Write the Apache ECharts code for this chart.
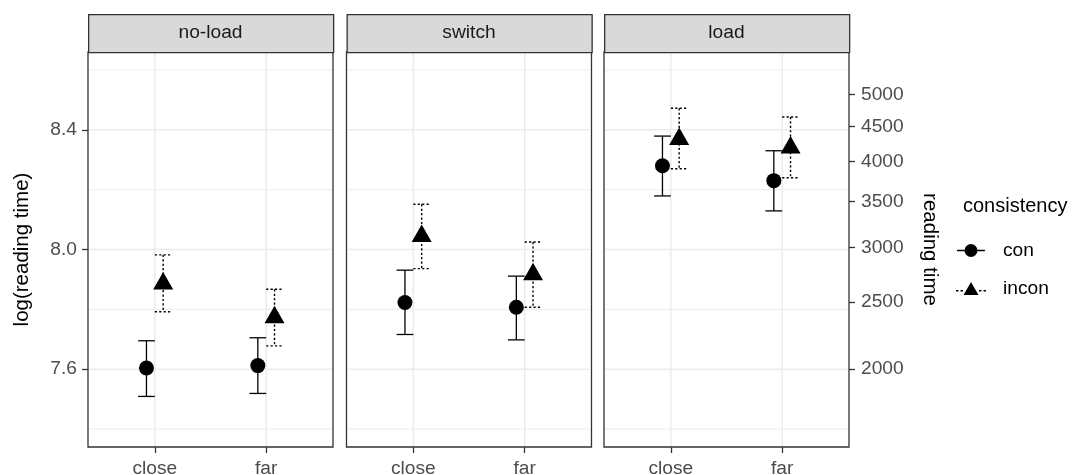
<!DOCTYPE html>
<html><head><meta charset="utf-8">
<script src="https://cdn.jsdelivr.net/npm/echarts@6/dist/echarts.min.js"></script>
<style>html,body{margin:0;padding:0;background:#fff}#c{width:1073px;height:475px}</style>
</head><body><div id="c"></div>
<script>
// ---------- data ----------
const panels = ['no-load', 'switch', 'load'];
const categories = ['close', 'far'];
const groups = ['con', 'incon'];
// log(reading time), indexed [panel][category]
const conMean   = [[7.604, 7.612], [7.823, 7.807], [8.280, 8.230]];
const conLow    = [[7.509, 7.519], [7.716, 7.698], [8.179, 8.129]];
const conHigh   = [[7.695, 7.705], [7.931, 7.911], [8.379, 8.330]];
const inconMean = [[7.886, 7.773], [8.045, 7.917], [8.369, 8.340]];
const inconLow  = [[7.792, 7.678], [7.936, 7.807], [8.270, 8.240]];
const inconHigh = [[7.982, 7.867], [8.151, 8.025], [8.472, 8.443]];
const yLimits = [7.34, 8.66];
const yMajor = [7.6, 8.0, 8.4];
const yMinor = [7.4, 7.8, 8.2, 8.6];
const rtTicks = [2000, 2500, 3000, 3500, 4000, 4500, 5000];

// ---------- layout / style ----------
const FONT = '"Liberation Sans", Arial, Helvetica, sans-serif';
const LEFTS = [88, 346.5, 604];
const PW = 245, TOP = 52, PH = 395, STRIP_TOP = 14;
const DODGE = 0.075, CAP = 0.075;
const X_MIN = 0.4, X_MAX = 2.6;
const BORDER = '#333333';

const chart = echarts.init(document.getElementById('c'), null, {renderer: 'canvas'});

const grids = [], xAxes = [], yAxes = [], series = [], graphics = [];

panels.forEach((p, i) => {
  grids.push({left: LEFTS[i], top: TOP, width: PW, height: PH, show: true,
    backgroundColor: '#fff', borderColor: BORDER, borderWidth: 1.3,
    containLabel: false, outerBoundsMode: 'none'});
  xAxes.push({gridIndex: i, type: 'value', min: X_MIN, max: X_MAX,
    axisLine: {show: false, onZero: false},
    axisTick: {show: true, customValues: [1, 2], length: 6, lineStyle: {color: BORDER, width: 1.3}},
    axisLabel: {customValues: [1, 2], formatter: v => categories[Math.round(v) - 1],
      fontSize: 19.2, color: '#4D4D4D', fontFamily: FONT, margin: 12},
    splitLine: {show: false}});
  const ya = {gridIndex: i, type: 'value', min: yLimits[0], max: yLimits[1],
    axisLine: {show: false, onZero: false}, splitLine: {show: false},
    axisTick: {show: false}, axisLabel: {show: false}};
  if (i === 0) {
    ya.axisTick = {show: true, customValues: yMajor, length: 6, lineStyle: {color: BORDER, width: 1.3}};
    ya.axisLabel = {show: true, customValues: yMajor, formatter: v => v.toFixed(1),
      fontSize: 19.2, color: '#4D4D4D', fontFamily: FONT, margin: 11};
    ya.name = 'log(reading time)';
    ya.nameLocation = 'middle';
    ya.nameRotate = 90;
    ya.nameGap = 55;
    ya.nameTextStyle = {fontSize: 20.5, color: '#000', fontFamily: FONT};
  }
  yAxes.push(ya);

  // grid lines
  const gl = [];
  yMinor.forEach(v => gl.push([0, v, 0]));
  yMajor.forEach(v => gl.push([0, v, 1]));
  [1, 2].forEach(v => gl.push([1, v, 1]));
  series.push({type: 'custom', name: 'gridlines', xAxisIndex: i, yAxisIndex: i, z: 1, silent: true,
    data: gl,
    renderItem: (params, api) => {
      const o = api.value(0), v = api.value(1), major = api.value(2);
      const cs = params.coordSys;
      const st = {stroke: '#EBEBEB', lineWidth: major ? 1.5 : 0.9};
      if (o === 0) {
        const y = api.coord([1, v])[1];
        return {type: 'line', shape: {x1: cs.x + 1, y1: y, x2: cs.x + cs.width - 1, y2: y}, style: st};
      }
      const x = api.coord([v, 8])[0];
      return {type: 'line', shape: {x1: x, y1: cs.y + 1, x2: x, y2: cs.y + cs.height - 1}, style: st};
    }});

  // error bars + points
  groups.forEach((g, gi) => {
    const mean = gi === 0 ? conMean : inconMean;
    const low = gi === 0 ? conLow : inconLow;
    const high = gi === 0 ? conHigh : inconHigh;
    const off = gi === 0 ? -DODGE : DODGE;
    const errData = categories.map((c, ci) => [ci + 1 + off, low[i][ci], high[i][ci]]);
    const dash = gi === 0 ? null : [2.2, 2.2];
    const lw = gi === 0 ? 1.3 : 1.4;
    series.push({type: 'custom', name: g + '-err', xAxisIndex: i, yAxisIndex: i, z: 3, silent: true,
      data: errData,
      renderItem: (params, api) => {
        const x = api.value(0), lo = api.value(1), hi = api.value(2);
        const pt = api.coord([x, hi]), pb = api.coord([x, lo]);
        const hw = api.coord([x + CAP, hi])[0] - pt[0];
        const st = {stroke: '#000', lineWidth: lw, lineDash: dash};
        return {type: 'group', children: [
          {type: 'line', shape: {x1: pt[0], y1: pt[1], x2: pb[0], y2: pb[1]}, style: st},
          {type: 'line', shape: {x1: pt[0] - hw, y1: pt[1], x2: pt[0] + hw, y2: pt[1]}, style: st},
          {type: 'line', shape: {x1: pb[0] - hw, y1: pb[1], x2: pb[0] + hw, y2: pb[1]}, style: st}
        ]};
      }});
    series.push({type: 'scatter', name: g, xAxisIndex: i, yAxisIndex: i, z: 4, silent: true,
      data: categories.map((c, ci) => [ci + 1 + off, mean[i][ci]]),
      symbol: gi === 0 ? 'circle' : 'triangle',
      symbolSize: gi === 0 ? 15 : [20, 17.5],
      symbolOffset: gi === 0 ? [0, 0] : [0, -2.9],
      itemStyle: {color: '#000', opacity: 1}});
  });

  // facet strip
  graphics.push({type: 'rect', left: LEFTS[i], top: STRIP_TOP, z: 10,
    shape: {width: PW, height: TOP - STRIP_TOP},
    style: {fill: '#D9D9D9', stroke: BORDER, lineWidth: 1.3}});
  graphics.push({type: 'text', z: 11, x: LEFTS[i] + PW / 2, y: (STRIP_TOP + TOP) / 2,
    style: {text: p, fontSize: 19.2, fill: '#1A1A1A', fontFamily: FONT, align: 'center', verticalAlign: 'middle'}});
});

// secondary (right) axis in reading time units
yAxes.push({gridIndex: 2, type: 'value', position: 'right', min: yLimits[0], max: yLimits[1],
  axisLine: {show: false, onZero: false}, splitLine: {show: false},
  axisTick: {show: true, customValues: rtTicks.map(Math.log), length: 6, lineStyle: {color: BORDER, width: 1.3}},
  axisLabel: {show: true, customValues: rtTicks.map(Math.log), formatter: v => String(Math.round(Math.exp(v))),
    fontSize: 19.2, color: '#4D4D4D', fontFamily: FONT, margin: 12},
  name: 'reading time', nameLocation: 'middle', nameRotate: -90, nameGap: 70,
  nameTextStyle: {fontSize: 20.5, color: '#000', fontFamily: FONT}});

const conIcon = 'path://M0,6.3h8v1.4h-8z M22,6.3h8v1.4h-8z M8,7a7,7 0 1,0 14,0a7,7 0 1,0 -14,0z';
const inconIcon = 'path://M15,0L22.5,13L7.5,13Z M0,8h2.5v1.4h-2.5z M4.5,8h2.5v1.4h-2.5z M23,8h2.5v1.4h-2.5z M27.5,8h2.5v1.4h-2.5z';

const option = {
  animation: false,
  backgroundColor: '#fff',
  textStyle: {fontFamily: FONT},
  title: {text: 'consistency', left: 963, top: 196, padding: 0,
    textStyle: {fontSize: 20, fontWeight: 'normal', color: '#000', fontFamily: FONT}},
  legend: {orient: 'vertical', left: 956, top: 241, padding: 0, itemWidth: 30, itemHeight: 13, itemGap: 19,
    selectedMode: false,
    data: [{name: 'con', icon: conIcon}, {name: 'incon', icon: inconIcon}],
    textStyle: {fontSize: 19.2, color: '#000', fontFamily: FONT, padding: [0, 0, 0, 12]}},
  grid: grids, xAxis: xAxes, yAxis: yAxes, series: series,
  graphic: {elements: graphics}
};
chart.setOption(option);
</script></body></html>
